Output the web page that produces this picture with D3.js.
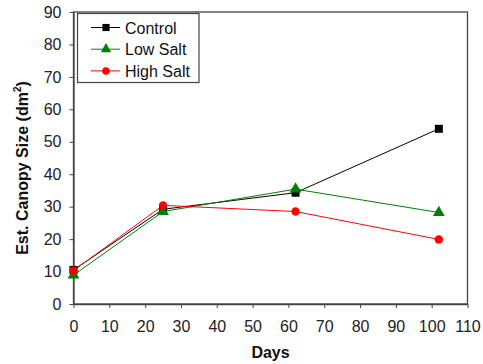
<!DOCTYPE html>
<html>
<head>
<meta charset="utf-8">
<script src="https://cdn.jsdelivr.net/npm/d3@7"></script>
<style>
  body { margin: 0; background: #fff; }
  text { font-family: "Liberation Sans", Arial, sans-serif; }
</style>
</head>
<body>
<div id="chart"></div>
<script>
const days = [0, 25, 62, 102];
const control = [10.5, 29.2, 34.3, 54.0];
const lowSalt = [8.9, 28.5, 35.4, 28.2];
const highSalt = [10.3, 30.4, 28.5, 19.9];
const xTicks = d3.range(0, 111, 10);
const yTicks = d3.range(0, 91, 10);

const series = [
  { name: "Control", values: control, color: "#000000", shape: d3.symbolSquare, size: 64 },
  { name: "Low Salt", values: lowSalt, color: "#008000", shape: d3.symbolTriangle, size: 60 },
  { name: "High Salt", values: highSalt, color: "#ff0000", shape: d3.symbolCircle, size: 55 }
];

const width = 483, height = 364;
const svg = d3.select("#chart").append("svg")
  .attr("width", width).attr("height", height);

const x = d3.scaleLinear().domain([0, 110]).range([73.5, 467.5]);
const y = d3.scaleLinear().domain([0, 90]).range([304, 12]);

// frame
svg.append("rect")
  .attr("x", x(0)).attr("y", y(90))
  .attr("width", x(110) - x(0)).attr("height", y(0) - y(90))
  .attr("fill", "none").attr("stroke", "#444").attr("stroke-width", 1.3);

const xAxis = svg.append("g")
  .attr("transform", `translate(0,${y(0)})`)
  .call(d3.axisBottom(x).tickValues(xTicks).tickSize(4).tickPadding(13).tickSizeOuter(0));
const yAxis = svg.append("g")
  .attr("transform", `translate(${x(0)},0)`)
  .call(d3.axisLeft(y).tickValues(yTicks).tickSize(4).tickPadding(8).tickSizeOuter(0));

[xAxis, yAxis].forEach(a => {
  a.select(".domain").attr("stroke", "#444").attr("stroke-width", 1.3);
  a.selectAll(".tick line").attr("stroke", "#444");
  a.selectAll(".tick text").attr("font-size", 16).attr("fill", "#222")
    .attr("font-family", "Liberation Sans, Arial, sans-serif");
});

svg.append("text")
  .attr("x", (x(0) + x(110)) / 2).attr("y", 358)
  .attr("text-anchor", "middle").attr("font-size", 16).attr("font-weight", "bold")
  .attr("fill", "#111").text("Days");

const yl = svg.append("text")
  .attr("transform", `translate(28,${168}) rotate(-90)`)
  .attr("text-anchor", "middle").attr("font-size", 16).attr("font-weight", "bold")
  .attr("fill", "#111");
yl.append("tspan").text("Est. Canopy Size (dm");
yl.append("tspan").attr("font-size", 10).attr("dy", -7).text("2");
yl.append("tspan").attr("dy", 7).text(")");

const line = d3.line().x((d, i) => x(days[i])).y(d => y(d));

series.forEach(s => {
  svg.append("path")
    .attr("d", line(s.values))
    .attr("fill", "none").attr("stroke", s.color).attr("stroke-width", 1);
});
series.forEach(s => {
  svg.selectAll(null).data(s.values).enter().append("path")
    .attr("d", d3.symbol().type(s.shape).size(s.size))
    .attr("transform", (d, i) => `translate(${x(days[i])},${y(d)})`)
    .attr("fill", s.color);
});

// legend
const lg = svg.append("g");
lg.append("rect").attr("x", 77.5).attr("y", 13.5).attr("width", 121.5).attr("height", 69)
  .attr("fill", "#fff").attr("stroke", "#444").attr("stroke-width", 1.2);
series.forEach((s, i) => {
  const cy = 27.5 + i * 21.7;
  lg.append("line").attr("x1", 91).attr("x2", 120).attr("y1", cy).attr("y2", cy)
    .attr("stroke", s.color);
  lg.append("path").attr("d", d3.symbol().type(s.shape).size(s.size * 0.8))
    .attr("transform", `translate(106,${cy})`).attr("fill", s.color);
  lg.append("text").attr("x", 125).attr("y", cy + 6)
    .attr("font-size", 16).attr("fill", "#111").text(s.name);
});
</script>
</body>
</html>
